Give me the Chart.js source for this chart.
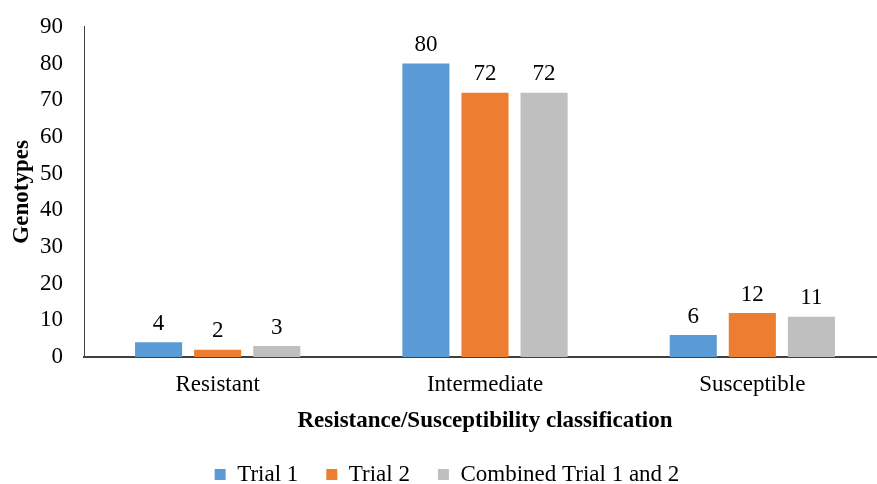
<!DOCTYPE html>
<html>
<head>
<meta charset="utf-8">
<script src="https://cdn.jsdelivr.net/npm/chart.js@4"></script>
<style>
  html, body { margin: 0; padding: 0; background: #fff; overflow: hidden; }
  #wrap { width: 886px; height: 484px; }
</style>
</head>
<body>
<div id="wrap"><canvas id="barChart"></canvas></div>
<script>
// chart data
const categories = ['Resistant', 'Intermediate', 'Susceptible'];
const trial1 = [4, 80, 6];
const trial2 = [2, 72, 12];
const combined = [3, 72, 11];
const seriesNames = ['Trial 1', 'Trial 2', 'Combined Trial 1 and 2'];
const yTicks = [0, 10, 20, 30, 40, 50, 60, 70, 80, 90];

const FONT = "'Liberation Serif', 'Times New Roman', serif";

// draws the numbers on top of each bar
const barLabels = {
  id: 'barLabels',
  afterDatasetsDraw(chart) {
    const ctx = chart.ctx;
    ctx.save();
    ctx.font = '23px ' + FONT;
    ctx.fillStyle = '#000';
    ctx.textAlign = 'center';
    ctx.textBaseline = 'bottom';
    chart.data.datasets.forEach((ds, i) => {
      chart.getDatasetMeta(i).data.forEach((bar, j) => {
        ctx.fillText(ds.data[j], bar.x, bar.y - 7);
      });
    });
    ctx.restore();
  }
};

// keep the legend block short so it sits near the bottom edge
const legendHeight = {
  id: 'legendHeight',
  beforeLayout(chart) {
    const lg = chart.legend;
    if (lg && !lg._fixed) {
      const fit = lg.fit;
      lg.fit = function () { fit.call(this); this.height = 49; };
      lg._fixed = true;
    }
  }
};

const ctxBar = document.getElementById('barChart');
const barChart = new Chart(ctxBar, {
  type: 'bar',
  data: {
    labels: categories,
    datasets: [
      { label: seriesNames[0], data: trial1, backgroundColor: '#5B9BD5' },
      { label: seriesNames[1], data: trial2, backgroundColor: '#ED7D31' },
      { label: seriesNames[2], data: combined, backgroundColor: '#BFBFBF' }
    ]
  },
  options: {
    responsive: true,
    maintainAspectRatio: false,
    animation: false,
    layout: { padding: { top: 18, right: 0, left: 8, bottom: 0 } },
    datasets: {
      bar: { categoryPercentage: 0.663, barPercentage: 0.797 }
    },
    scales: {
      x: {
        grid: { display: false },
        border: { display: true, color: '#404040', width: 2 },
        ticks: { color: '#000', font: { family: FONT, size: 23 }, padding: 6 },
        title: {
          display: true,
          text: 'Resistance/Susceptibility classification',
          color: '#000',
          font: { family: FONT, size: 23, weight: 'bold' },
          padding: { top: 0, bottom: 0 }
        },
        afterFit(scale) { scale.height = 78; }
      },
      y: {
        min: 0,
        max: 90,
        afterBuildTicks(scale) { scale.ticks = yTicks.map(v => ({ value: v })); },
        grid: { display: false },
        border: { display: true, color: '#404040', width: 1 },
        ticks: { color: '#000', font: { family: FONT, size: 23 }, padding: 13 },
        title: {
          display: true,
          text: 'Genotypes',
          color: '#000',
          font: { family: FONT, size: 23, weight: 'bold' },
          padding: { top: 0, bottom: 0 }
        },
        afterFit(scale) { scale.width = 76; }
      }
    },
    plugins: {
      legend: {
        position: 'bottom',
        labels: {
          color: '#000',
          font: { family: FONT, size: 23 },
          boxWidth: 11,
          boxHeight: 11,
          padding: 28
        }
      },
      tooltip: { enabled: false }
    }
  },
  plugins: [barLabels, legendHeight]
});
</script>
</body>
</html>
